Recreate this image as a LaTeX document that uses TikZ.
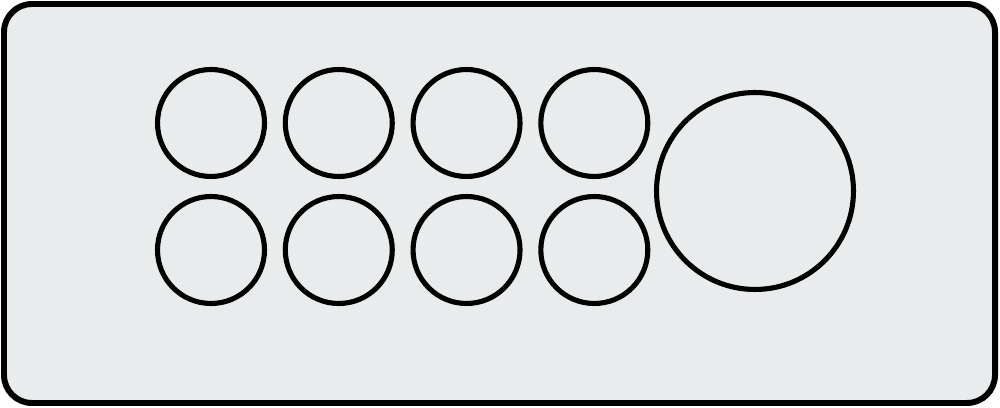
\documentclass[tikz,border=0pt]{standalone}
\usepackage{tikz}
\usetikzlibrary{positioning}
\definecolor{panelgrey}{RGB}{232,236,236}
\tikzset{
  hole/.style={circle, draw=black, line width=2.9pt, inner sep=0pt, minimum size=2.14cm},
  bighole/.style={circle, draw=black, line width=2.9pt, inner sep=0pt, minimum size=3.94cm}
}

\begin{document}
\begin{tikzpicture}[x=0.02cm, y=-0.02cm, node distance=0.314cm]
        \useasboundingbox (0,0) rectangle (1000,408);
        % panel
        \draw[line width=3.4pt, fill=panelgrey, rounded corners=0.56cm] (4,4) rectangle (995,403);
        % top row
        \node[hole] (h1) at (211,123) {};
        \node[hole] [right=of h1] (h2) {};
        \node[hole] [right=of h2] (h3) {};
        \node[hole] [right=of h3] (h4) {};
        % bottom row
        \node[hole] (h5) at (211,250) {};
        \node[hole] [right=of h5] (h6) {};
        \node[hole] [right=of h6] (h7) {};
        \node[hole] [right=of h7] (h8) {};
        % large one
        \node[bighole] (big) at (755,191) {};
      \end{tikzpicture}
\end{document}
